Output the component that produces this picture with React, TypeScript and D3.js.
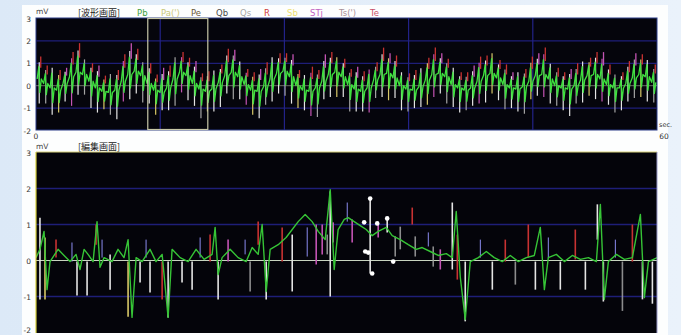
import React from "react";
import * as d3 from "d3";

// ---- overview strip (60 s), one entry per beat, 0.625 s apart ----
const topBase = [
  0.3, 0.1, -0.1, -0.2, 0.1, 0.4, 0.6, 0.5, 0.2,
  -0.1, -0.25, -0.3, -0.2, 0.2, 0.5, 0.65, 0.45, 0.1,
  -0.2, -0.3, -0.1, 0.3, 0.6, 0.45, 0.1, -0.15, -0.25,
  -0.15, 0.15, 0.45, 0.6, 0.4, 0.05, -0.2, -0.25, -0.05,
  0.3, 0.55, 0.65, 0.4, 0.0, -0.2, -0.25, -0.1, 0.2,
  0.5, 0.6, 0.4, 0.05, -0.15, -0.25, -0.1, 0.25, 0.5,
  0.55, 0.35, 0.0, -0.15, -0.2, -0.05, 0.25, 0.5, 0.55,
  0.4, 0.05, -0.1, -0.2, -0.1, 0.2, 0.45, 0.55, 0.35,
  0.05, -0.1, -0.15, -0.05, 0.2, 0.45, 0.5, 0.3, 0.0,
  -0.1, -0.15, 0.0, 0.25, 0.45, 0.5, 0.3, 0.05, -0.1,
  -0.1, 0.1, 0.35, 0.5, 0.4, 0.15
];
const topHi = [
  1.0, 0.8, 1.2, 0.9, 0.7, 1.1, 1.3, 0.9,
  0.8, 1.0, 0.7, 1.1, 0.9, 1.2, 1.4, 1.0,
  0.8, 0.9, 0.7, 1.1, 1.0, 1.3, 0.9, 0.8,
  1.0, 0.7, 0.9, 1.1, 0.8, 1.2, 1.0, 0.9,
  0.7, 0.8, 1.0, 1.1, 1.3, 0.9, 0.8, 1.0,
  0.7, 0.9, 1.1, 0.8, 1.2, 1.0, 0.9, 0.8,
  0.7, 1.0, 0.9, 1.1, 0.8, 1.2, 0.9, 1.0,
  0.8, 0.7, 0.9, 1.1, 1.0, 1.2, 0.9, 0.8,
  1.0, 0.7, 0.8, 1.0, 1.1, 0.9, 1.2, 0.8,
  0.9, 0.7, 1.0, 0.8, 1.1, 1.0, 1.2, 0.9,
  0.8, 0.7, 0.9, 1.0, 1.1, 0.8, 1.0, 1.2,
  0.9, 0.8, 0.7, 1.0, 1.1, 0.9, 1.0, 0.8
];
const topLo = [
  1.1, 0.9, 1.2, 1.0, 0.8, 1.3, 1.0, 0.9,
  1.2, 1.1, 0.8, 1.0, 1.3, 0.9, 1.1, 1.0,
  1.2, 0.9, 1.1, 0.8, 1.0, 1.2, 0.9, 1.1,
  1.0, 1.3, 0.9, 1.0, 1.1, 0.8, 1.2, 1.0,
  0.9, 1.1, 1.2, 0.8, 1.0, 0.9, 1.1, 1.2,
  1.0, 0.9, 1.1, 1.3, 0.8, 1.0, 1.1, 0.9,
  1.2, 1.0, 0.9, 1.1, 0.8, 1.0, 1.2, 0.9,
  1.1, 1.0, 0.8, 0.9, 1.1, 1.0, 0.9, 1.2,
  1.0, 1.1, 0.9, 0.8, 1.0, 1.2, 0.9, 1.0,
  1.1, 0.9, 1.0, 1.2, 0.8, 0.9, 1.0, 1.1,
  0.9, 1.0, 1.2, 0.8, 1.0, 0.9, 1.1, 1.0,
  0.9, 1.1, 1.0, 0.8, 0.9, 1.0, 1.1, 0.9
];
const topLineCodes =
  "wgwywpwgwwygwpwwgwywwgpwwgywwwgwpywgwwgwywpgwwywgwwpgwywwgwwypwgwwgwpwywgwwgywpwgwwgwywpwgwwgywg";
const topCapCodes =
  "rr-rprr-rpr-rrpr-rrpr-rrprr-rrp-rrpr-rrpr-rrpr-rrpr-rrpr-rr-rrpr-rrprr-rrp-rrpr-rrpr-rrpr-rrpr-rr";
const beatStep = 0.625;
const topTicks = [3, 2, 1, 0, -1, -2];
const topVGrid = [12, 24, 36, 48];
const selection = [10.8, 16.6];

// ---- edit view (selected 5.8 s), [sec, mV] ----
const editTrace: [number, number][] = [
  [0.0, 0.08], [0.037, 0.31], [0.075, 0.81], [0.103, -0.81], [0.131, -0.03], [0.206, 0.31],
  [0.262, 0.14], [0.318, -0.03], [0.374, 0.17], [0.411, -0.25], [0.449, 0.31], [0.486, 0.17],
  [0.533, -0.03], [0.57, 1.08], [0.598, -0.19], [0.636, 0.08], [0.71, -0.03], [0.766, 0.31],
  [0.822, 0.08], [0.86, 0.58], [0.897, -1.58], [0.935, 0.08], [0.991, -0.03], [1.065, 0.31],
  [1.121, -0.03], [1.178, 0.17], [1.234, -1.58], [1.271, 0.31], [1.346, 0.08], [1.421, -0.03],
  [1.495, 0.31], [1.57, 0.03], [1.645, 0.17], [1.673, 0.92], [1.701, -0.39], [1.738, 0.08],
  [1.813, 0.31], [1.888, 0.08], [1.963, -0.03], [2.019, 0.36], [2.075, 0.17], [2.112, 1.0],
  [2.15, -0.86], [2.187, 0.31], [2.262, 0.44], [2.336, 0.64], [2.393, 0.86], [2.449, 1.08],
  [2.514, 1.28], [2.579, 1.08], [2.636, 0.81], [2.701, 0.58], [2.748, 1.97], [2.785, -0.25],
  [2.822, 0.86], [2.879, 1.14], [2.916, 1.19], [2.972, 1.08], [3.028, 0.97], [3.084, 0.86],
  [3.14, 0.69], [3.196, 0.81], [3.271, 0.92], [3.327, 0.69], [3.402, 0.58], [3.477, 0.44],
  [3.551, 0.31], [3.607, 0.36], [3.682, 0.25], [3.757, 0.14], [3.832, 0.19], [3.888, 0.08],
  [3.925, 1.36], [3.963, -0.47], [4.009, -1.64], [4.056, -0.03], [4.131, 0.08], [4.206, 0.25],
  [4.28, 0.08], [4.355, -0.03], [4.43, 0.14], [4.505, -0.03], [4.579, 0.08], [4.654, 0.14],
  [4.71, 0.92], [4.748, -0.81], [4.785, 0.08], [4.86, 0.17], [4.935, -0.03], [5.009, 0.14],
  [5.084, 0.03], [5.159, 0.08], [5.234, -0.03], [5.271, 1.56], [5.308, -1.08], [5.346, -0.03],
  [5.421, 0.17], [5.495, 0.03], [5.57, 0.08], [5.645, 1.28], [5.682, -1.03], [5.72, -0.03],
  [5.804, 0.08]
];
// [sec, from mV, to mV, kind]
const editMarks: [number, number, number, string][] = [
  [0.037, 1.19, -1.08, "w"], [0.084, 0.64, -1.08, "y"], [0.187, 0.58, 0.08, "r"],
  [0.336, 0.5, -0.03, "b"], [0.383, -0.03, -0.97, "w"], [0.477, -0.03, -0.97, "w"],
  [0.561, 1.0, 0.44, "r"], [0.617, 0.58, 0.08, "b"], [0.692, 0.17, -0.81, "w"],
  [0.86, -0.03, -1.56, "y"], [0.972, -0.03, -0.61, "w"], [1.028, 0.58, 0.08, "b"],
  [1.065, -0.03, -0.89, "w"], [1.178, -0.03, -1.08, "r"], [1.234, -0.03, -1.58, "w"],
  [1.364, -0.03, -0.61, "w"], [1.458, -0.03, -0.81, "w"], [1.533, 0.64, 0.08, "b"],
  [1.626, 0.72, -0.03, "r"], [1.701, -0.03, -1.08, "w"], [1.794, 0.58, -0.03, "p"],
  [1.953, 0.58, 0.17, "b"], [2.0, -0.03, -0.86, "g"], [2.075, 1.08, 0.44, "r"],
  [2.15, -0.03, -1.08, "w"], [2.299, 0.92, -0.03, "r"], [2.393, 0.72, -0.86, "w"],
  [2.533, 0.92, 0.11, "b"], [2.617, 1.0, -0.11, "p"], [2.673, 1.0, 0.17, "p"],
  [2.72, 0.72, 0.17, "g"], [2.748, 1.92, -1.0, "w"], [2.776, 1.06, 0.5, "p"],
  [2.907, 1.61, 1.08, "b"], [2.953, 1.14, 0.5, "p"], [3.121, 1.72, -0.36, "w"],
  [3.196, 1.0, 0.64, "p"], [3.28, 1.17, 0.78, "w"], [3.355, 0.67, 0.11, "g"],
  [3.402, 0.94, 0.31, "g"], [3.514, 1.47, 1.0, "r"], [3.542, 0.67, 0.11, "g"],
  [3.664, 0.78, 0.39, "b"], [3.71, 0.39, -0.17, "g"], [3.776, 0.31, -0.25, "p"],
  [3.888, 1.61, -0.25, "w"], [3.935, 0.72, -0.53, "r"], [4.009, -0.03, -1.69, "w"],
  [4.15, 0.58, 0.08, "b"], [4.262, -0.03, -0.81, "w"], [4.383, 0.58, -0.03, "r"],
  [4.477, -0.03, -0.67, "g"], [4.598, 1.0, 0.08, "r"], [4.664, -0.03, -0.81, "w"],
  [4.785, 0.64, 0.08, "b"], [4.897, -0.03, -0.81, "w"], [5.037, 0.86, 0.03, "r"],
  [5.131, -0.03, -0.81, "w"], [5.243, 1.56, 0.58, "w"], [5.299, -0.03, -1.14, "w"],
  [5.411, 0.58, 0.08, "b"], [5.477, -0.03, -1.4, "g"], [5.57, 1.0, -0.03, "r"],
  [5.664, -0.03, -1.08, "w"], [5.757, -0.03, -1.2, "w"]
];
const editDots: [number, number][] = [
  [3.121, 1.72], [3.065, 1.06], [3.187, 1.03], [3.28, 1.17],
  [3.075, 0.25], [3.103, 0.22], [3.336, -0.03], [3.14, -0.36]
];
const editTicks = [3, 2, 1, 0, -1, -2];
const editSpan = 5.8;

const legendItems = ["Pb", "Pa(')", "Pe", "Qb", "Qs", "R", "Sb", "STj", "Ts(')", "Te"];
const legendColors = ["#3f9f3f", "#c8c87a", "#6a5a3a", "#4a4a4a", "#a8a8a8", "#d03a3a", "#eee070", "#c060c0", "#a89098", "#c8506a"];
const legendX = [137, 161, 191, 216, 240, 264, 287, 310, 339, 370];

const markColor: Record<string, string> = {
  w: "#e4e4e4", g: "#a4a4a4", r: "#c83232", p: "#c454b4", b: "#8c8cf0", y: "#d8c868"
};

export default function App() {
  const left = 36, right = 657;
  const topY = d3.scaleLinear().domain([3, -2]).range([18.5, 130.5]);
  const topX = d3.scaleLinear().domain([0, 60]).range([left, right]);
  const botY = d3.scaleLinear().domain([3, -2]).range([152.5, 332.5]);
  const botX = d3.scaleLinear().domain([0, editSpan]).range([left, right]);

  // overview green trace: baseline -> upper turn -> lower turn per beat
  const zig: [number, number][] = [];
  topBase.forEach((b, i) => {
    const t = (i + 0.5) * beatStep;
    zig.push([t - 0.2, b]);
    zig.push([t - 0.04, b + topHi[i] * 0.55]);
    zig.push([t + 0.06, b - topLo[i] * 0.55]);
    zig.push([t + 0.2, b]);
  });
  const topLine = d3.line<[number, number]>().x(d => topX(d[0])).y(d => topY(d[1]));
  const botLine = d3.line<[number, number]>().x(d => botX(d[0])).y(d => botY(d[1]));

  const labelFont = "'DejaVu Sans', sans-serif";
  const jpFont = "'Noto Sans CJK JP', sans-serif";

  return (
    <svg width={681} height={335} style={{ position: "absolute", left: 0, top: 0 }}>
      <defs>
        <linearGradient id="bg" x1="0" y1="0" x2="1" y2="0">
          <stop offset="0%" stopColor="#dce9f7" />
          <stop offset="100%" stopColor="#eaf2fb" />
        </linearGradient>
        <clipPath id="topClip"><rect x={left} y={18} width={right - left} height={113} /></clipPath>
        <clipPath id="botClip"><rect x={left} y={152} width={right - left} height={181} /></clipPath>
      </defs>
      <rect width={681} height={335} fill="url(#bg)" />
      <rect x={22} y={5} width={646} height={330} fill="#fdfefe" />

      {/* ===== overview ===== */}
      <rect x={left} y={18} width={right - left} height={112} fill="#05050c" stroke="#2c3c88" strokeWidth={1} />
      <g clipPath="url(#topClip)">
        {topTicks.filter(v => v !== 0 && v !== 3 && v !== -2).map(v => (
          <line key={v} x1={left} x2={right} y1={topY(v)} y2={topY(v)} stroke="#1e1e78" strokeWidth={1.2} />
        ))}
        {topVGrid.map(s => (
          <line key={s} x1={topX(s)} x2={topX(s)} y1={18} y2={130} stroke="#222288" strokeWidth={1.2} />
        ))}
        <line x1={left} x2={right} y1={topY(0)} y2={topY(0)} stroke="#b8c0a8" strokeWidth={0.8} opacity={0.7} />
        {topBase.map((b, i) => {
          const x = topX((i + 0.5) * beatStep);
          const code = topLineCodes[i] || "w";
          const cap = topCapCodes[i] || "-";
          return (
            <g key={i}>
              <line x1={x} x2={x} y1={topY(b - topLo[i])} y2={topY(b + topHi[i] * 0.75)}
                stroke={markColor[code]} strokeWidth={1.2} />
              {cap !== "-" && (
                <line x1={x + 1.5} x2={x + 1.5} y1={topY(b + topHi[i] * 0.5)} y2={topY(b + topHi[i])}
                  stroke={markColor[cap]} strokeWidth={1.3} />
              )}
            </g>
          );
        })}
        <path d={topLine(zig) || ""} fill="none" stroke="#3ee03e" strokeWidth={1.3} strokeLinejoin="round" />
      </g>
      <rect x={topX(selection[0])} y={18.5} width={topX(selection[1]) - topX(selection[0])} height={111}
        fill="none" stroke="#c8c8a8" strokeWidth={1.2} />

      {topTicks.map(v => (
        <text key={v} x={31} y={topY(v) + 3} fontSize={7.5} fontFamily={labelFont} fill="#333" textAnchor="end">{v}</text>
      ))}
      <text x={36} y={14} fontSize={7.5} fontFamily={labelFont} fill="#444">mV</text>
      <text x={78} y={15.5} fontSize={9} fontFamily={jpFont} fill="#222">[波形画面]</text>
      {legendItems.map((s, i) => (
        <text key={s} x={legendX[i]} y={15.5} fontSize={8.5} fontFamily={labelFont} fill={legendColors[i]}>{s}</text>
      ))}
      <text x={topX(0)} y={139} fontSize={7.5} fontFamily={labelFont} fill="#333" textAnchor="middle">0</text>
      <text x={664} y={139} fontSize={7.5} fontFamily={labelFont} fill="#333" textAnchor="middle">60</text>
      <text x={659} y={127} fontSize={6.5} fontFamily={labelFont} fill="#333">sec.</text>

      {/* ===== edit view ===== */}
      <rect x={left} y={152} width={right - left} height={181} fill="#04040a" />
      <g clipPath="url(#botClip)">
        {editTicks.filter(v => v !== 0 && v !== 3 && v !== -2).map(v => (
          <line key={v} x1={left} x2={right} y1={botY(v)} y2={botY(v)} stroke="#1e1e78" strokeWidth={1.3} />
        ))}
        <line x1={left} x2={right} y1={botY(0)} y2={botY(0)} stroke="#c8d4c0" strokeWidth={1} />
        {editMarks.map(([t, a, b, k], i) => (
          <line key={i} x1={botX(t)} x2={botX(t)} y1={botY(a)} y2={botY(b)}
            stroke={markColor[k]} strokeWidth={k === "b" ? 1 : 1.6} opacity={k === "g" ? 0.85 : 1} />
        ))}
        <path d={botLine(editTrace) || ""} fill="none" stroke="#36c436" strokeWidth={1.4} strokeLinejoin="round" />
        {editDots.map(([t, v], i) => (
          <circle key={i} cx={botX(t)} cy={botY(v)} r={2.3} fill="#ffffff" />
        ))}
      </g>
      <line x1={left} x2={left} y1={152} y2={333} stroke="#d6cf3c" strokeWidth={1.2} />
      <line x1={left} x2={right} y1={152} y2={152} stroke="#d8d27a" strokeWidth={1} />
      <line x1={right} x2={right} y1={152} y2={333} stroke="#9898c8" strokeWidth={1} />

      {editTicks.map(v => (
        <text key={v} x={31} y={Math.min(botY(v) + 3, 333)} fontSize={7.5} fontFamily={labelFont} fill="#333" textAnchor="end">{v}</text>
      ))}
      <text x={36} y={149} fontSize={7.5} fontFamily={labelFont} fill="#444">mV</text>
      <text x={78} y={150} fontSize={9} fontFamily={jpFont} fill="#222">[編集画面]</text>
    </svg>
  );
}
